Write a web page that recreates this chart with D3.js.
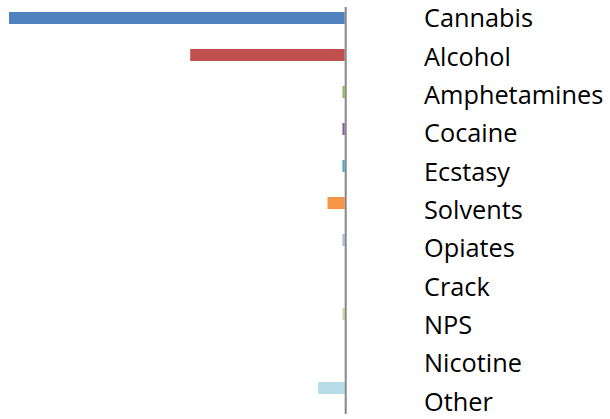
<!DOCTYPE html>
<html>
<head>
<meta charset="utf-8">
<script src="https://cdn.jsdelivr.net/npm/d3@7"></script>
<style>
html,body{margin:0;padding:0;background:#fff;}
svg{display:block;}
</style>
</head>
<body>
<script>
const categories = ["Cannabis","Alcohol","Amphetamines","Cocaine","Ecstasy","Solvents","Opiates","Crack","NPS","Nicotine","Other"];
const values = [88, 40.5, 0.6, 0.6, 0.6, 4.5, 0.6, 0, 0.6, 0, 7.0];
const colors = ["#4F81BD","#C0504D","#9BBB59","#8064A2","#4BACC6","#F79646","#A7BDDB","#D99694","#C9DB9F","#B3A2C7","#B7DEE8"];

const W = 610, H = 419;
const svg = d3.select("body").append("svg").attr("width", W).attr("height", H);

const x = d3.scaleLinear().domain([0, 88]).range([344.7, 9]);
const y = d3.scaleBand().domain(categories).range([-0.5, 406.5])
  .paddingInner(25/37).paddingOuter(12.5/37);
// labels sit in a separate text column with slightly wider spacing
const yLabel = d3.scalePoint().domain(categories).range([18.3, 401.7]);

svg.append("g").selectAll("rect").data(categories).join("rect")
  .attr("x", (d,i) => x(values[i]))
  .attr("y", d => y(d))
  .attr("width", (d,i) => x(0) - x(values[i]))
  .attr("height", y.bandwidth())
  .attr("fill", (d,i) => colors[i]);

// vertical axis line at zero
svg.append("line")
  .attr("x1", x(0) + 1).attr("x2", x(0) + 1)
  .attr("y1", 7).attr("y2", 414)
  .attr("stroke", "#868686").attr("stroke-width", 2);

svg.append("g").selectAll("text").data(categories).join("text")
  .attr("x", 424)
  .attr("y", d => yLabel(d))
  .attr("dy", "0.36em")
  .attr("font-family", "'Open Sans', sans-serif")
  .attr("font-size", 25.3)
  .attr("fill", "#000")
  .text(d => d);
</script>
</body>
</html>
